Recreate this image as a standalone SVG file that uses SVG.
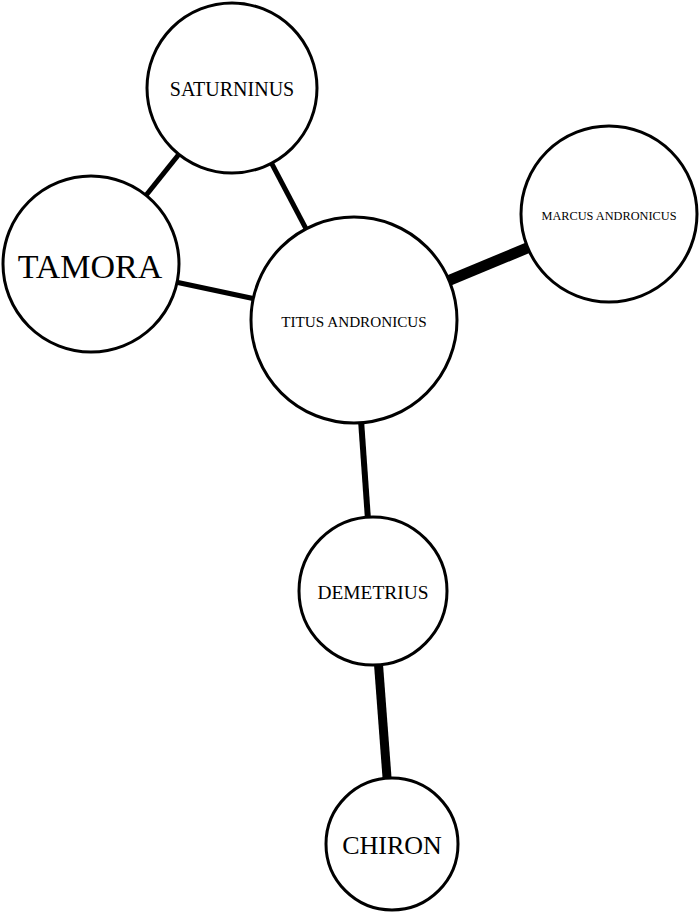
<svg xmlns="http://www.w3.org/2000/svg" width="700" height="912" viewBox="0 0 700 912">
<style>
.node circle{fill:#fff;stroke:#000;stroke-width:3}
.node text{font-family:"Liberation Serif","Times New Roman",serif;fill:#000;text-anchor:middle}
.edges line{stroke:#000;stroke-linecap:butt}
</style>
<rect width="700" height="912" fill="#fff"/>
<g id="edges" class="edges">
<line x1="232" y1="88" x2="91" y2="264" stroke-width="5"/>
<line x1="232" y1="88" x2="354" y2="320" stroke-width="5"/>
<line x1="91" y1="264" x2="354" y2="320" stroke-width="5"/>
<line x1="354" y1="320" x2="609" y2="214" stroke-width="11"/>
<line x1="354" y1="320" x2="373" y2="591" stroke-width="6"/>
<line x1="373" y1="591" x2="392" y2="844" stroke-width="9"/>
</g>
<g id="saturninus" class="node"><circle cx="232" cy="88" r="85"/><text x="232" y="96" font-size="20">SATURNINUS</text></g>
<g id="tamora" class="node"><circle cx="91" cy="264" r="88"/><text x="90" y="278" font-size="34">TAMORA</text></g>
<g id="titus" class="node"><circle cx="354" cy="320" r="103"/><text x="354" y="327" font-size="15.2">TITUS ANDRONICUS</text></g>
<g id="marcus" class="node"><circle cx="609" cy="214" r="88"/><text x="609" y="220" font-size="12.3">MARCUS ANDRONICUS</text></g>
<g id="demetrius" class="node"><circle cx="373" cy="591" r="74"/><text x="373" y="599" font-size="19.4">DEMETRIUS</text></g>
<g id="chiron" class="node"><circle cx="392" cy="844" r="66"/><text x="392" y="854" font-size="26">CHIRON</text></g>
</svg>
